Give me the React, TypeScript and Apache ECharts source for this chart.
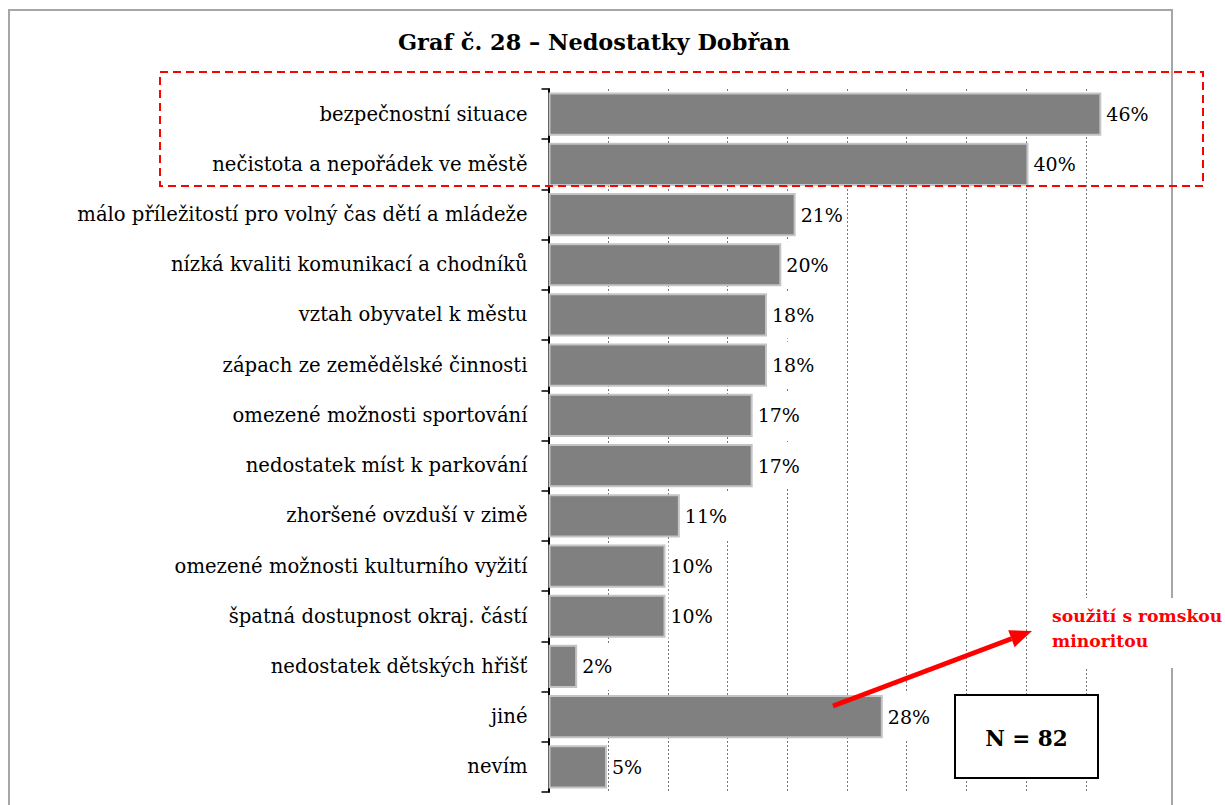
import React, { useEffect, useRef } from "react";
import * as echarts from "echarts";

const categories = [
  "bezpečnostní situace",
  "nečistota a nepořádek ve městě",
  "málo příležitostí pro volný čas dětí a mládeže",
  "nízká kvaliti komunikací a chodníků",
  "vztah obyvatel k městu",
  "zápach ze zemědělské činnosti",
  "omezené možnosti sportování",
  "nedostatek míst k parkování",
  "zhoršené ovzduší v zimě",
  "omezené možnosti kulturního vyžití",
  "špatná dostupnost okraj. částí",
  "nedostatek dětských hřišť",
  "jiné",
  "nevím",
];
// bar lengths (share of N = 82 respondents)
const values = [46.3, 40.2, 20.7, 19.5, 18.3, 18.3, 17.1, 17.1, 11.0, 9.8, 9.8, 2.4, 28.0, 4.9];
// printed value labels
const valueLabels = ["46%", "40%", "21%", "20%", "18%", "18%", "17%", "17%", "11%", "10%", "10%", "2%", "28%", "5%"];
const titleText = "Graf č. 28 – Nedostatky Dobřan";
const noteLines = ["soužití s romskou", "minoritou"];
const sampleText = "N = 82";

const FONT = "DejaVu Serif";

export default function App() {
  const ref = useRef<HTMLDivElement>(null);
  useEffect(() => {
    if (!ref.current) return;
    const chart = echarts.init(ref.current, null, { renderer: "svg" });
    // arrow geometry
    const x1 = 833, y1 = 706, x2 = 1032, y2 = 631;
    const dx = x2 - x1, dy = y2 - y1;
    const len = Math.sqrt(dx * dx + dy * dy);
    const ux = dx / len, uy = dy / len;
    const hl = 22, hw = 9;
    const bx = x2 - ux * hl, by = y2 - uy * hl;
    const px = -uy, py = ux;
    chart.setOption({
      animation: false,
      backgroundColor: "#fff",
      title: {
        text: titleText,
        left: 589,
        top: 26,
        textAlign: "center",
        textStyle: { fontFamily: FONT, fontSize: 22.4, fontWeight: "bold", color: "#000" },
      },
      grid: { left: 548.5, right: 1225 - 1145.5, top: 89, bottom: 805 - 792, containLabel: false },
      xAxis: {
        type: "value",
        min: 0,
        max: 50,
        interval: 5,
        axisLine: { show: false },
        axisTick: { show: false },
        axisLabel: { show: false },
        splitLine: {
          show: true,
          showMinLine: false,
          showMaxLine: false,
          lineStyle: { color: "#777", width: 1, type: [2, 2] },
        },
      },
      yAxis: {
        type: "category",
        inverse: true,
        data: categories,
        axisLine: { show: true, lineStyle: { color: "#000", width: 2 } },
        axisTick: { show: true, length: 7, lineStyle: { color: "#000", width: 1.5 } },
        axisLabel: { fontFamily: FONT, fontSize: 19.6, color: "#000", margin: 21 },
      },
      series: [
        {
          type: "bar",
          data: values,
          barCategoryGap: "14%",
          itemStyle: { color: "#808080", borderColor: "#c4c4c4", borderWidth: 2 },
          label: {
            show: true,
            position: "right",
            distance: 3,
            formatter: (p: any) => valueLabels[p.dataIndex],
            fontFamily: FONT,
            fontSize: 19,
            color: "#000",
            backgroundColor: "#fff",
            padding: [14, 2, 14, 2],
          },
          z: 3,
        },
      ],
      graphic: [
        {
          type: "rect",
          shape: { x: 9, y: 10, width: 1163, height: 820 },
          style: { fill: null, stroke: "#a6a6a6", lineWidth: 2 },
          z: 1,
          silent: true,
        },
        {
          type: "rect",
          shape: { x: 160, y: 72, width: 1043, height: 114 },
          style: { fill: null, stroke: "#ff0000", lineWidth: 2, lineDash: [8, 5] },
          z: 10,
          silent: true,
        },
        {
          type: "rect",
          shape: { x: 1036, y: 598, width: 189, height: 70 },
          style: { fill: "#fff", stroke: null },
          z: 8,
          silent: true,
        },
        {
          type: "text",
          x: 1052,
          y: 628,
          style: {
            text: noteLines.join("\n"),
            fontFamily: FONT,
            fontSize: 17.2,
            fontWeight: "bold",
            fill: "#ff0000",
            lineHeight: 25,
            verticalAlign: "middle",
          },
          z: 9,
          silent: true,
        },
        {
          type: "line",
          shape: { x1, y1, x2: bx, y2: by },
          style: { stroke: "#ff0000", lineWidth: 5 },
          z: 10,
          silent: true,
        },
        {
          type: "polygon",
          shape: {
            points: [
              [x2, y2],
              [bx + px * hw, by + py * hw],
              [bx - px * hw, by - py * hw],
            ],
          },
          style: { fill: "#ff0000" },
          z: 10,
          silent: true,
        },
        {
          type: "rect",
          shape: { x: 955, y: 695, width: 143, height: 83 },
          style: { fill: "#fff", stroke: "#000", lineWidth: 2 },
          z: 9,
          silent: true,
        },
        {
          type: "text",
          x: 1026.5,
          y: 738,
          style: {
            text: sampleText,
            fontFamily: FONT,
            fontSize: 21.5,
            fontWeight: "bold",
            fill: "#000",
            align: "center",
            verticalAlign: "middle",
          },
          z: 10,
          silent: true,
        },
      ],
    });
    return () => chart.dispose();
  }, []);
  return <div ref={ref} style={{ width: 1225, height: 805, position: "absolute", left: 0, top: 0 }} />;
}
